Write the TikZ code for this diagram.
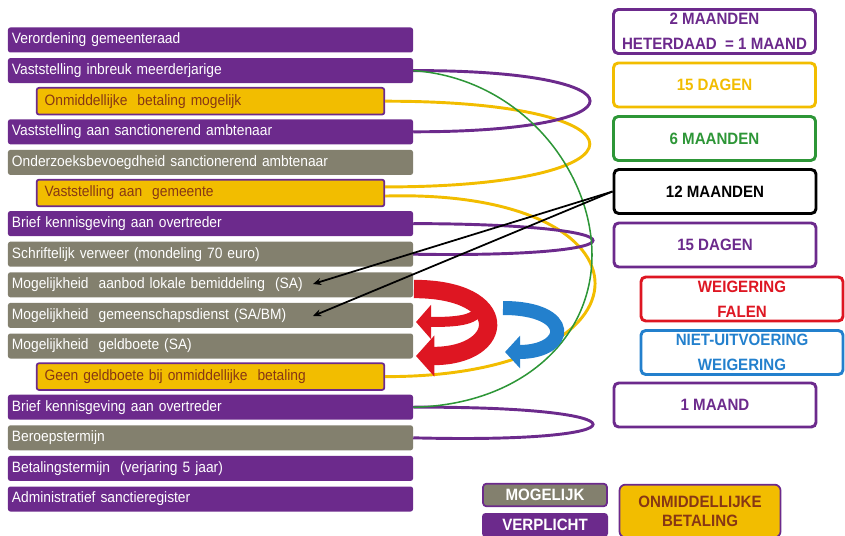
\documentclass[tikz,border=0pt]{standalone}
\usepackage{fontspec}
\setmainfont{Liberation Sans}
\newfontfamily\smalfont[FakeStretch=0.92]{Liberation Sans}
\usetikzlibrary{positioning,arrows.meta}
\definecolor{paars}{RGB}{108,42,140}
\definecolor{grijs}{RGB}{131,128,110}
\definecolor{geel}{RGB}{242,189,0}
\definecolor{bruin}{RGB}{135,55,20}
\definecolor{groen}{RGB}{45,150,55}
\definecolor{rood}{RGB}{222,22,34}
\definecolor{blauw}{RGB}{35,128,205}

\begin{document}
\begin{tikzpicture}[x=0.03cm, y=-0.03cm, node distance = {0.918cm},
verplicht/.style = {fill=paars, text=white, rounded corners=2pt, minimum height=0.75cm, inner ysep=0pt, inner xsep=0.12cm, text width=11.91cm, align=left, font=\smalfont\fontsize{12.8}{14}\selectfont},
mogelijk/.style = {verplicht, fill=grijs},
betaling/.style = {draw=paars, line width=1.5pt, fill=geel, text=bruin, rounded corners=2pt, minimum height=0.8cm, inner ysep=0pt, inner xsep=0.24cm, text width=9.95cm, align=left, font=\smalfont\fontsize{12.8}{14}\selectfont},
termijn/.style = {draw=#1, text=#1, fill=white, line width=2.5pt, rounded corners=4pt, minimum width=6.06cm, minimum height=1.32cm, inner sep=0pt, align=center, font=\smalfont\bfseries\fontsize{14}{15}\selectfont},
lus/.style = {draw=#1, line width=2.5pt},
pijl/.style = {draw=black, line width=1.5pt, -{Stealth[length=7pt,width=6pt]}}]

    \useasboundingbox (0,0) rectangle (845,536);

    % linker kolom
    \node[verplicht] (1) at (210.5,40) {Verordening gemeenteraad};
    \node[verplicht, below of=1] (2) {Vaststelling inbreuk meerderjarige};
    \node[betaling, below of=2] (3) {Onmiddellijke\ \ betaling mogelijk};
    \node[verplicht, below of=3] (4) {Vaststelling aan sanctionerend ambtenaar};
    \node[mogelijk, below of=4] (5) {Onderzoeksbevoegdheid sanctionerend ambtenaar};
    \node[betaling, below of=5] (6) {Vaststelling aan\ \ gemeente};
    \node[verplicht, below of=6] (7) {Brief kennisgeving aan overtreder};
    \node[mogelijk, below of=7] (8) {Schriftelijk verweer (mondeling 70 euro)};
    \node[mogelijk, below of=8] (9) {Mogelijkheid\ \ aanbod lokale bemiddeling\ \ (SA)};
    \node[mogelijk, below of=9] (10) {Mogelijkheid\ \ gemeenschapsdienst (SA/BM)};
    \node[mogelijk, below of=10] (11) {Mogelijkheid\ \ geldboete (SA)};
    \node[betaling, below of=11] (12) {Geen geldboete bij onmiddellijke\ \ betaling};
    \node[verplicht, below of=12] (13) {Brief kennisgeving aan overtreder};
    \node[mogelijk, below of=13] (14) {Beroepstermijn};
    \node[verplicht, below of=14] (15) {Betalingstermijn\ \ (verjaring 5 jaar)};
    \node[verplicht, below of=15] (16) {Administratief sanctieregister};

    % termijnen rechts
    \node[termijn=paars] (r1) at (714.5,31.5) {2 MAANDEN\\[6pt]HETERDAAD\ \ = 1 MAAND};
    \node[termijn=geel] (r2) at (714.5,85) {15 DAGEN};
    \node[termijn=groen] (r3) at (714.5,138.5) {6 MAANDEN};
    \node[termijn=black] (r4) at (715,191.5) {12 MAANDEN};
    \node[termijn=paars] (r5) at (715,245) {15 DAGEN};
    \node[termijn=rood] (r6) at (742,299) {WEIGERING\\[6pt]FALEN};
    \node[termijn=blauw] (r7) at (742,352.5) {NIET-UITVOERING\\[6pt]WEIGERING};
    \node[termijn=paars] (r8) at (715,405) {1 MAAND};

    % legende
    \node[draw=paars, line width=1.5pt, fill=grijs, text=white, rounded corners=3pt, minimum width=3.72cm, minimum height=0.68cm, inner sep=0pt, font=\smalfont\bfseries\fontsize{14}{15}\selectfont] (l1) at (545,495) {MOGELIJK};
    \node[fill=paars, text=white, rounded corners=3pt, minimum width=3.78cm, minimum height=0.72cm, inner sep=0pt, font=\smalfont\bfseries\fontsize{14}{15}\selectfont] (l2) at (545,525) {VERPLICHT};
    \node[draw=paars, line width=1.5pt, fill=geel, text=bruin, rounded corners=5pt, minimum width=4.83cm, minimum height=1.58cm, inner sep=0pt, align=center, font=\smalfont\bfseries\fontsize{14}{16}\selectfont] (l3) at (700,511) {ONMIDDELLIJKE\\BETALING};

    % lussen
    \draw [lus=geel] (3.east) .. controls (658,101) and (658,187) .. (6.2);
    \draw [lus=geel] (6.-1) .. controls (665,188) and (665,377) .. (12.east);
    \draw [lus=paars] (2.east) .. controls (649,70) and (649,132) .. (4.east);
    \draw [lus=paars] (7.east) .. controls (653,224) and (653,258) .. (8.east);
    \draw [lus=paars] (13.east) .. controls (653,406) and (653,444) .. (14.east);
    \draw [groen, line width=1.3pt] (2.east) .. controls (520,78) and (592,170) .. (592,255) .. controls (592,340) and (520,405) .. (13.east);

    % pijlen naar 12 maanden
    \coordinate (p9) at (313,284);
    \coordinate (p10) at (313,316);
    \draw [pijl] (r4.west) -- (p9);
    \draw [pijl] (r4.west) -- (p10);

    % rode en blauwe draaipijlen
    \draw [rood, line width=0.55cm, -{Triangle[length=0.55cm,width=1.2cm]}] (414,289) .. controls (512,289) and (507,356) .. (416,356);
    \draw [rood, line width=0.3cm, -{Triangle[length=0.45cm,width=1.0cm]}] (480,306) .. controls (478,320) and (460,322) .. (416,322);
    \draw [blauw, line width=0.42cm, -{Triangle[length=0.45cm,width=0.95cm]}] (503,308) .. controls (575,308) and (570,352) .. (505,352);

\end{tikzpicture}
\end{document}
